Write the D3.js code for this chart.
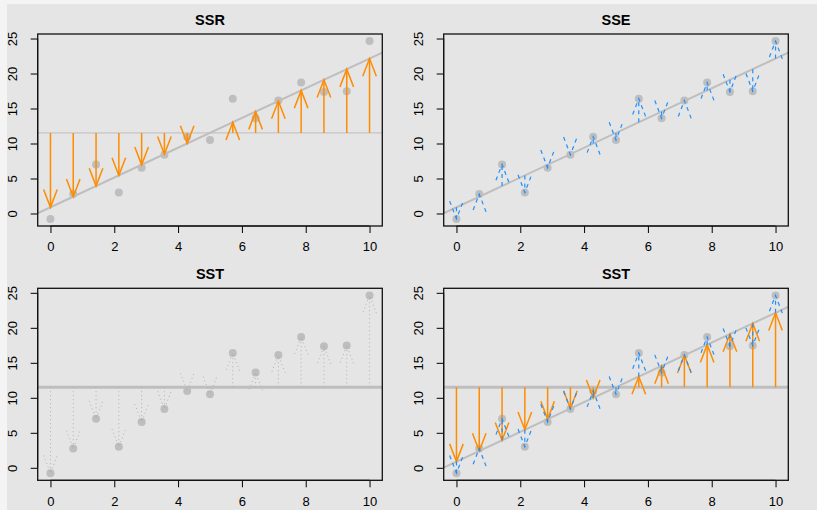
<!DOCTYPE html>
<html>
<head>
<meta charset="utf-8">
<script src="https://cdn.jsdelivr.net/npm/d3@7"></script>
<style>
  body { margin: 0; background: #f4f4f4; }
  svg { display: block; }
  text { font-family: "Liberation Sans", Arial, Helvetica, sans-serif; fill: #000; }
</style>
</head>
<body>
<svg id="chart" width="817" height="510"></svg>
<script>
// Observations
const xValues = [0, 0.714, 1.429, 2.143, 2.857, 3.571, 4.286, 5, 5.714, 6.429, 7.143, 7.857, 8.571, 9.286, 10];
const yValues = [-0.77, 2.77, 7.01, 3.0, 6.54, 8.40, 10.97, 10.50, 16.41, 13.60, 16.13, 18.70, 17.37, 17.46, 24.63];
const xTicks = [0, 2, 4, 6, 8, 10];
const yTicks = [0, 5, 10, 15, 20, 25];
const panelTitles = ["SSR", "SSE", "SST", "SST"];

// Least-squares fit and mean of y
const xMean = d3.mean(xValues);
const yMean = d3.mean(yValues);
const sxy = d3.sum(xValues, (x, i) => (x - xMean) * (yValues[i] - yMean));
const sxx = d3.sum(xValues, x => (x - xMean) ** 2);
const slope = sxy / sxx;
const intercept = yMean - slope * xMean;
const fitted = xValues.map(x => intercept + slope * x);

// Axis ranges widened by 4% on each side
function padded(ext) {
  const r = ext[1] - ext[0];
  return [ext[0] - 0.04 * r, ext[1] + 0.04 * r];
}
const xDomain = padded(d3.extent(xValues));
const yDomain = padded(d3.extent(yValues));

const COL = { point: "#bebebe", fit: "#bebebe", orange: "#ff8c00", blue: "#1e90ff", dotted: "#b0b0b0" };
const FONT = "Liberation Sans, Arial, sans-serif";

const svg = d3.select("#chart");
svg.append("rect").attr("x", 7).attr("y", 4).attr("width", 810).attr("height", 506).attr("fill", "#e5e5e5");

const cellW = 406, cellH = 254.3;
const box = { left: 30.7, right: 30.7, top: 30, height: 192 };

// Line with an open V head at its end point
function arrow(g, x0, y0, x1, y1, color, width, dash) {
  const dx = x1 - x0, dy = y1 - y0;
  if (Math.hypot(dx, dy) < 0.1) return;
  const th = Math.atan2(dy, dx), a = 21 * Math.PI / 180, L = 19;
  const p1 = [x1 - L * Math.cos(th - a), y1 - L * Math.sin(th - a)];
  const p2 = [x1 - L * Math.cos(th + a), y1 - L * Math.sin(th + a)];
  g.append("line")
    .attr("x1", x0).attr("y1", y0).attr("x2", x1).attr("y2", y1)
    .attr("stroke", color).attr("stroke-width", width)
    .attr("stroke-dasharray", dash);
  g.append("path")
    .attr("d", `M${p1[0]},${p1[1]}L${x1},${y1}L${p2[0]},${p2[1]}`)
    .attr("fill", "none").attr("stroke", color).attr("stroke-width", width)
    .attr("stroke-dasharray", dash);
}

function panel(index, layers) {
  const col = index % 2, row = Math.floor(index / 2);
  const ox = 7 + col * cellW, oy = 4 + row * cellH;
  const x0 = ox + box.left, x1 = ox + cellW - box.right;
  const y0 = oy + box.top, y1 = y0 + box.height;
  const x = d3.scaleLinear().domain(xDomain).range([x0, x1]);
  const y = d3.scaleLinear().domain(yDomain).range([y1, y0]);

  const clipId = "clip" + index;
  svg.append("clipPath").attr("id", clipId)
    .append("rect").attr("x", x0).attr("y", y0).attr("width", x1 - x0).attr("height", y1 - y0);
  const g = svg.append("g").attr("clip-path", `url(#${clipId})`);
  const gTop = svg.append("g");

  const meanLine = (w, c) => g.append("line")
    .attr("x1", x0).attr("x2", x1).attr("y1", y(yMean)).attr("y2", y(yMean))
    .attr("stroke", c).attr("stroke-width", w);
  const fitLine = () => g.append("line")
    .attr("x1", x0).attr("x2", x1)
    .attr("y1", y(intercept + slope * xDomain[0])).attr("y2", y(intercept + slope * xDomain[1]))
    .attr("stroke", COL.fit).attr("stroke-width", 2);
  const points = () => g.selectAll(null).data(xValues).join("circle")
    .attr("cx", d => x(d)).attr("cy", (d, i) => y(yValues[i])).attr("r", 4)
    .attr("fill", COL.point);

  layers.forEach(layer => {
    if (layer === "meanThin") meanLine(1.3, "#c4c4c4");
    if (layer === "meanThick") meanLine(3, COL.fit);
    if (layer === "fit") fitLine();
    if (layer === "points") points();
    if (layer === "regArrows") xValues.forEach((d, i) =>
      arrow(gTop, x(d), y(yMean), x(d), y(fitted[i]), COL.orange, 1.5, null));
    if (layer === "resArrows") xValues.forEach((d, i) =>
      arrow(gTop, x(d), y(fitted[i]), x(d), y(yValues[i]), COL.blue, 1.2, "4,4"));
    if (layer === "totArrows") xValues.forEach((d, i) =>
      arrow(gTop, x(d), y(yMean), x(d), y(yValues[i]), COL.dotted, 1, "1,3"));
  });

  // Axes
  const xAxis = d3.axisBottom(x).tickValues(xTicks).tickSize(7).tickPadding(9).tickFormat(d3.format("d"));
  const ax = svg.append("g").attr("transform", `translate(0,${y1})`).call(xAxis);
  ax.select(".domain").attr("d", `M${x(xTicks[0])},0H${x(xTicks[xTicks.length - 1])}`).attr("stroke", "#000");
  ax.selectAll(".tick line").attr("stroke", "#000");
  ax.selectAll(".tick text").attr("font-size", 13).attr("font-family", FONT);

  const yAxis = d3.axisLeft(y).tickValues(yTicks).tickSize(7).tickFormat(d3.format("d"));
  const ay = svg.append("g").attr("transform", `translate(${x0},0)`).call(yAxis);
  ay.select(".domain").attr("d", `M0,${y(yTicks[0])}V${y(yTicks[yTicks.length - 1])}`).attr("stroke", "#000");
  ay.selectAll(".tick line").attr("stroke", "#000");
  ay.selectAll(".tick text")
    .attr("font-size", 13).attr("font-family", FONT)
    .attr("x", null).attr("dy", null)
    .attr("text-anchor", "middle")
    .attr("transform", "translate(-20.5,0) rotate(-90)");

  // Frame and title
  svg.append("rect").attr("x", x0).attr("y", y0).attr("width", x1 - x0).attr("height", y1 - y0)
    .attr("fill", "none").attr("stroke", "#111").attr("stroke-width", 1.3);
  svg.append("text").attr("x", (x0 + x1) / 2).attr("y", oy + 21)
    .attr("text-anchor", "middle").attr("font-size", 14.5).attr("font-weight", "bold")
    .text(panelTitles[index]);
}

panel(0, ["meanThin", "fit", "points", "regArrows"]);
panel(1, ["fit", "points", "resArrows"]);
panel(2, ["points", "totArrows", "meanThick"]);
panel(3, ["points", "fit", "regArrows", "resArrows", "meanThick"]);
</script>
</body>
</html>
